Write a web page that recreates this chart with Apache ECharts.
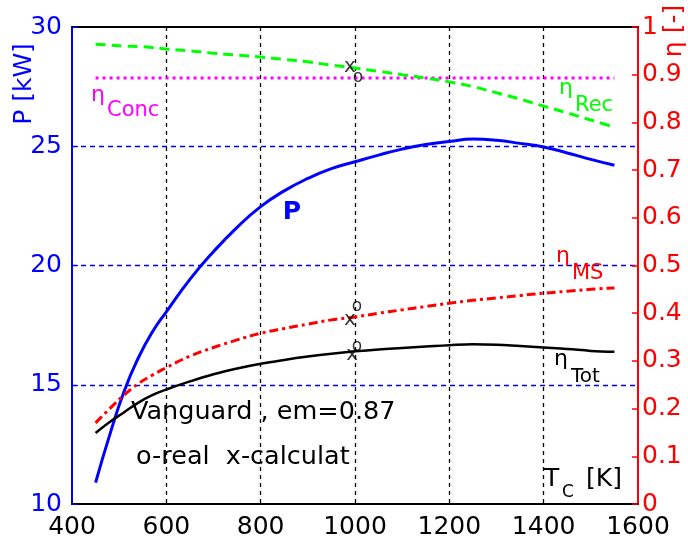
<!DOCTYPE html>
<html><head><meta charset="utf-8">
<script src="https://cdn.jsdelivr.net/npm/echarts@6/dist/echarts.min.js"></script>
<style>html,body{margin:0;padding:0;background:#fff}#c{width:688px;height:547px}</style>
</head><body><div id="c"></div>
<script>
// ---- data ----
const temperatures = [450,480,510,540,570,600,650,700,750,800,850,900,950,1000,1050,1100,1150,1200,1250,1300,1350,1400,1450,1500,1550];
const powerKW = [10.9,12.9,14.7,16.1,17.2,18.06,19.42,20.58,21.6,22.47,23.13,23.65,24.06,24.35,24.63,24.88,25.07,25.2,25.3,25.25,25.12,24.97,24.72,24.45,24.2];
const etaMS  = [0.170,0.200,0.228,0.252,0.270,0.286,0.310,0.328,0.344,0.358,0.368,0.377,0.386,0.392,0.400,0.407,0.414,0.421,0.427,0.432,0.437,0.442,0.446,0.450,0.453];
const etaTot = [0.149,0.172,0.192,0.212,0.228,0.240,0.257,0.272,0.284,0.294,0.302,0.309,0.315,0.320,0.324,0.327,0.330,0.333,0.335,0.334,0.331,0.328,0.325,0.321,0.319];
const etaRec = [0.964,0.962,0.960,0.959,0.957,0.954,0.950,0.945,0.941,0.937,0.932,0.927,0.920,0.914,0.907,0.900,0.893,0.885,0.875,0.862,0.849,0.834,0.820,0.805,0.790];
const concT = [450,1550];
const etaConc = [0.893,0.893];
const calcT = [989,989,994];
const calcEta = [0.916,0.386,0.312];
const realT = [1006,1004,1004];
const realEta = [0.895,0.413,0.329];
const xTicks = [400,600,800,1000,1200,1400,1600];
const pTicks = [10,15,20,25,30];
const etaTicks = [0,0.1,0.2,0.3,0.4,0.5,0.6,0.7,0.8,0.9,1];

const FF = '"DejaVu Sans"';
const BLUE = '#0000ff', RED = '#ff0000', GREEN = '#00ff00', MAG = '#ff00ff';
const pair = (xs, ys) => xs.map((x, i) => [x, ys[i]]);

const chart = echarts.init(document.getElementById('c'), null, {renderer: 'canvas'});

function txt(x, y, text, size, color, opts) {
  opts = opts || {};
  return {
    type: 'text', x: x, y: y, rotation: opts.rot || 0, z: 100, silent: true,
    style: {
      text: text,
      font: (opts.bold ? 'bold ' : '') + size + 'px ' + FF,
      fill: color,
      textAlign: opts.align || 'left',
      textVerticalAlign: 'middle'
    }
  };
}

const option = {
  animation: false,
  backgroundColor: '#fff',
  grid: {left: 72, right: 50, top: 27, bottom: 43, containLabel: false},
  xAxis: [{
    type: 'value', min: xTicks[0], max: xTicks[xTicks.length - 1], interval: xTicks[1] - xTicks[0],
    axisLine: {show: true, onZero: false, lineStyle: {color: '#000', width: 2}},
    axisTick: {show: false},
    axisLabel: {color: '#000', fontSize: 25, fontFamily: FF, margin: 11, formatter: v => String(v)},
    splitLine: {show: true, showMinLine: false, showMaxLine: false, lineStyle: {color: '#000', type: [4, 4], width: 1.3}}
  }, {
    type: 'value', position: 'top', min: xTicks[0], max: xTicks[xTicks.length - 1],
    axisLine: {show: true, onZero: false, lineStyle: {color: '#000', width: 2}},
    axisTick: {show: false}, axisLabel: {show: false}, splitLine: {show: false}
  }],
  yAxis: [{
    type: 'value', position: 'left', min: pTicks[0], max: pTicks[pTicks.length - 1], interval: pTicks[1] - pTicks[0],
    axisLine: {show: true, onZero: false, lineStyle: {color: BLUE, width: 2}},
    axisTick: {show: true, inside: true, length: 6, lineStyle: {color: BLUE}},
    axisLabel: {color: BLUE, fontSize: 25, fontFamily: FF, margin: 10, formatter: v => String(v)},
    splitLine: {show: true, showMinLine: false, showMaxLine: false, lineStyle: {color: BLUE, type: [5, 4], width: 1.3}}
  }, {
    type: 'value', position: 'right', min: etaTicks[0], max: etaTicks[etaTicks.length - 1], interval: 0.1,
    axisLine: {show: true, onZero: false, lineStyle: {color: RED, width: 2}},
    axisTick: {show: true, inside: true, length: 6, lineStyle: {color: RED, width: 1.5}},
    axisLabel: {color: RED, fontSize: 25, fontFamily: FF, margin: 4,
      formatter: v => String(Math.round(v * 10) / 10)},
    splitLine: {show: false}
  }],
  series: [
    {name: 'etaConc', type: 'line', yAxisIndex: 1, data: pair(concT, etaConc), symbol: 'none', silent: true,
      lineStyle: {color: MAG, width: 3, type: [3, 4]}},
    {name: 'etaRec', type: 'line', yAxisIndex: 1, data: pair(temperatures, etaRec), symbol: 'none', smooth: 0.4, silent: true,
      lineStyle: {color: GREEN, width: 3, type: [10, 6]}},
    {name: 'P', type: 'line', yAxisIndex: 0, data: pair(temperatures, powerKW), symbol: 'none', smooth: 0.5, silent: true,
      lineStyle: {color: BLUE, width: 3}},
    {name: 'etaMS', type: 'line', yAxisIndex: 1, data: pair(temperatures, etaMS), symbol: 'none', smooth: 0.4, silent: true,
      lineStyle: {color: RED, width: 3, type: [9, 4, 3, 4]}},
    {name: 'etaTot', type: 'line', yAxisIndex: 1, data: pair(temperatures, etaTot), symbol: 'none', smooth: 0.4, silent: true,
      lineStyle: {color: '#000', width: 2.5}},
    {name: 'calc', type: 'scatter', yAxisIndex: 1, data: pair(calcT, calcEta), symbolSize: 2, silent: true, z: 5,
      itemStyle: {color: 'rgba(0,0,0,0)'},
      label: {show: true, position: 'inside', formatter: 'x', color: '#000', fontSize: 20, fontFamily: FF}},
    {name: 'real', type: 'scatter', yAxisIndex: 1, data: pair(realT, realEta), symbolSize: 2, silent: true, z: 5,
      itemStyle: {color: 'rgba(0,0,0,0)'},
      label: {show: true, position: 'inside', formatter: 'o', color: '#000', fontSize: 17, fontFamily: FF}}
  ],
  graphic: [
    txt(24, 84, 'P [kW]', 25, BLUE, {rot: Math.PI / 2, align: 'center'}),
    txt(674, 31, 'η [-]', 25, RED, {rot: Math.PI / 2, align: 'center'}),
    txt(292, 212, 'P', 25, BLUE, {bold: true, align: 'center'}),
    txt(91, 95, 'η', 22, MAG), txt(107, 111, 'Conc', 21, MAG),
    txt(559, 88, 'η', 22, GREEN), txt(575, 106, 'Rec', 21, GREEN),
    txt(556, 256, 'η', 22, RED), txt(572, 274, 'MS', 21, RED),
    txt(554, 359, 'η', 22, '#000'), txt(571, 377, 'Tot', 20, '#000'),
    txt(131, 412, 'Vanguard , em=0.87', 25.5, '#000'),
    txt(136, 457, 'o-real  x-calculat', 25.5, '#000'),
    txt(544, 479, 'T', 25, '#000'), txt(562, 493, 'C', 17, '#000'), txt(586, 479, '[K]', 25, '#000')
  ]
};
chart.setOption(option);
</script>
</body></html>
